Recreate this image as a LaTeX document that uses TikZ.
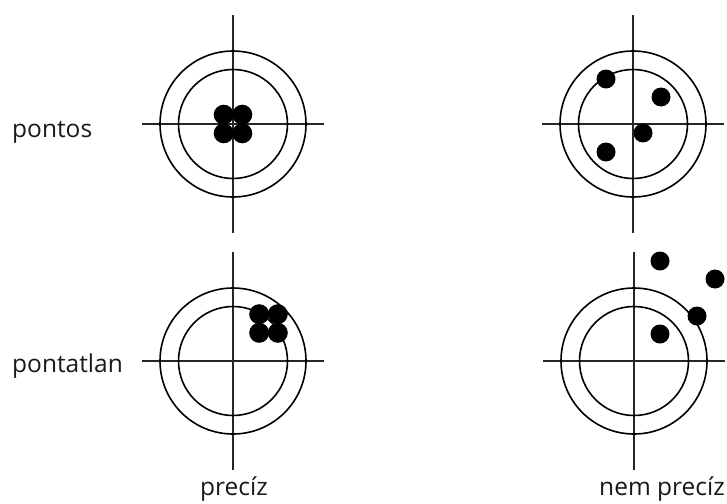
\documentclass[tikz,border=0pt]{standalone}
\usepackage{fontspec}
\setmainfont{Open Sans}
\usetikzlibrary{calc}
\begin{document}
\begin{tikzpicture}[x=1pt,y=-1pt,
  ring/.style={draw=black,line width=1.6pt},
  axis/.style={draw=black!85,line width=1.8pt},
  shot/.style={fill=black},
  lbl/.style={font=\fontsize{24.5}{28}\selectfont,text=black!90,inner sep=0pt}]
\useasboundingbox (0,0) rectangle (727,503);
% targets
\foreach \cx/\cy/\n in {233/124/tl,633/124/tr,233/361/bl,634/361/br}{
  \coordinate (\n) at (\cx,\cy);
  \draw[axis] ($(\n)+(0,-109)$) -- ($(\n)+(0,109)$);
  \draw[axis] ($(\n)+(-91,0)$) -- ($(\n)+(91,0)$);
  \draw[ring] (\n) circle[radius=73];
  \draw[ring] (\n) circle[radius=54.5];
}
% precise + accurate
\foreach \dx/\dy in {-9.3/-9.3,9.3/-9.3,-9.3/9.3,9.3/9.3}{
  \fill[shot] (233+\dx,124+\dy) circle[radius=10];
  \fill[shot] (268.5+\dx,323.5+\dy) circle[radius=10];
}
% not precise
\foreach \x/\y in {606/79,661/97,643/133,606/152,660/261,715/279,697/316,660/334}{
  \fill[shot] (\x,\y) circle[radius=9.5];
}
% labels
\node[lbl,anchor=base west] (pontos) at (12,137) {pontos};
\node[lbl,anchor=base west] (pontatlan) at (12,372) {pontatlan};
\node[lbl,anchor=base] (preciz) at (234,495) {precíz};
\node[lbl,anchor=base] (nempreciz) at (662,495) {nem precíz};
\end{tikzpicture}
\end{document}
